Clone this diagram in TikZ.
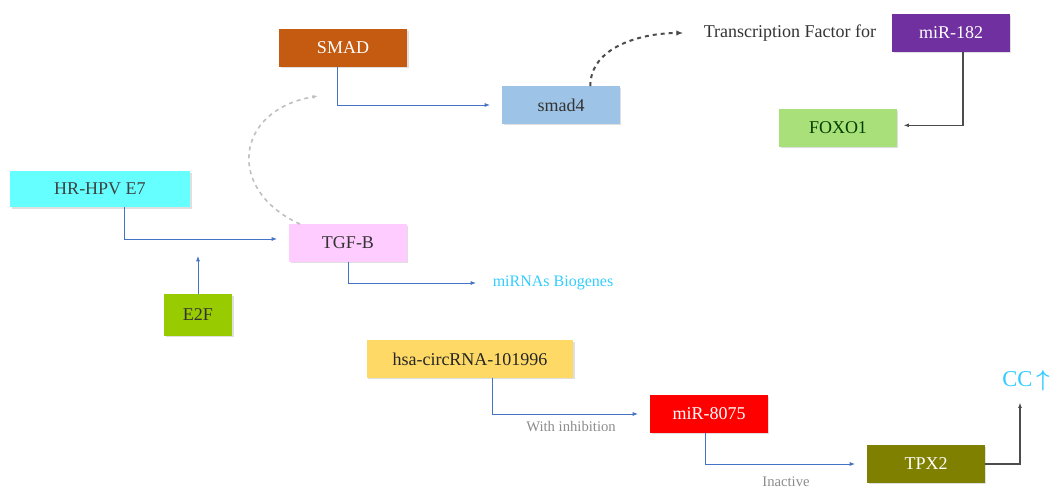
\documentclass[tikz,border=0pt]{standalone}
\usepackage{amsmath}
\usepackage{fontspec}
\setmainfont{Liberation Serif}
\usetikzlibrary{shadows,arrows.meta}
\usepackage{xcolor}

\definecolor{smadorange}{HTML}{C55A11}
\definecolor{smadblue}{HTML}{9DC3E6}
\definecolor{mirpurple}{HTML}{7030A0}
\definecolor{foxgreen}{HTML}{A9E07A}
\definecolor{hpvcyan}{HTML}{66FFFF}
\definecolor{tgfpink}{HTML}{FFCCFF}
\definecolor{efgreen}{HTML}{99CC00}
\definecolor{circgold}{HTML}{FFD966}
\definecolor{tpxolive}{HTML}{808000}
\definecolor{linkblue}{HTML}{4472C4}
\definecolor{textcyan}{HTML}{33CCFF}

\begin{document}
\begin{tikzpicture}[x=0.75pt,y=-0.75pt,
  genebox/.style={rectangle, minimum width=88pt, minimum height=28pt, inner sep=2pt,
    font=\fontsize{13.5}{15}\selectfont, drop shadow={opacity=0.25,shadow xshift=1.2pt,shadow yshift=-1.2pt}},
  bluelink/.style={draw=linkblue, line width=0.7pt, -{Latex[length=4pt,width=3pt]}, shorten >=9pt},
  greylink/.style={draw=black!70, line width=1pt, -{Latex[length=4pt,width=3pt]}, shorten >=5pt},
  smalllabel/.style={font=\fontsize{11}{12}\selectfont, text=black!45}]
  \useasboundingbox (0,0) rectangle (1058,488);

  % boxes
  \node[genebox, fill=smadorange, text=white, minimum width=96pt] (smad) at (343,48) {SMAD};
  \node[genebox, fill=smadblue, text=black!80] (smad4) at (561,105) {smad4};
  \node[genebox, fill=mirpurple, text=white] (mir182) at (951,33) {miR-182};
  \node[genebox, fill=foxgreen, text=black!75!green] (foxo1) at (838,128) {FOXO1};
  \node[genebox, fill=hpvcyan, text=black!75, minimum width=135pt, minimum height=27pt] (hpv) at (100,189) {HR-HPV E7};
  \node[genebox, fill=tgfpink, text=black!80] (tgf) at (348,243) {TGF-B};
  \node[genebox, fill=efgreen, text=black!80, minimum width=51pt, minimum height=31pt] (e2f) at (198,315) {E2F};
  \node[genebox, fill=circgold, text=black!85, minimum width=155pt] (circ) at (470,359) {hsa-circRNA-101996};
  \node[genebox, fill=red, text=white] (mir8075) at (709,414) {miR-8075};
  \node[genebox, fill=tpxolive, text=white] (tpx2) at (926,464) {TPX2};

  % plain texts
  \node[font=\fontsize{13.5}{15}\selectfont, text=black!80] (tf) at (790,33) {Transcription Factor for};
  \node[font=\fontsize{12}{14}\selectfont, text=textcyan] (biogen) at (553,283) {miRNAs Biogenes};
  \node[font=\fontsize{17}{20}\selectfont, text=textcyan] (cc) at (1026,381) {CC\,$\boldsymbol{\uparrow}$};

  \coordinate (e2fend) at (198,256);
  \coordinate (smadin) at (318,96);

  % links
  \draw[bluelink] ([xshift=-4.5pt]smad.south) |- (smad4.west);
  \draw[bluelink] ([xshift=18.5pt]hpv.south) |- ([yshift=3pt]tgf.west);
  \draw[draw=linkblue, line width=0.7pt, -{Latex[length=4pt,width=3pt]}] (e2f.north) -- (e2fend);
  \draw[bluelink] (tgf.south) |- (biogen.west);
  \draw[bluelink] ([xshift=16.5pt]circ.south) |- (mir8075.west)
    node[pos=0.75, below=2pt, smalllabel] {With inhibition};
  \draw[bluelink] ([xshift=-3pt]mir8075.south) |- (tpx2.west)
    node[pos=0.75, below=6pt, smalllabel] {Inactive};
  \draw[greylink] ([xshift=9pt]mir182.south) |- ([yshift=2pt]foxo1.east);
  \draw[greylink] (tpx2.east) -| ([xshift=-4.5pt]cc.south);
  \draw[black!70, line width=1.5pt, dashed, -{Latex[length=5pt,width=4pt]}]
    ([xshift=22pt]smad4.north) .. controls +(0,-40) and +(-40,0) .. ([xshift=-12pt]tf.west);
  \draw[black!25, line width=1.2pt, dashed, -{Latex[length=4pt,width=3pt]}]
    ([xshift=-36pt]tgf.north) .. controls (225,190) and (235,110) .. (smadin);
\end{tikzpicture}
\end{document}
